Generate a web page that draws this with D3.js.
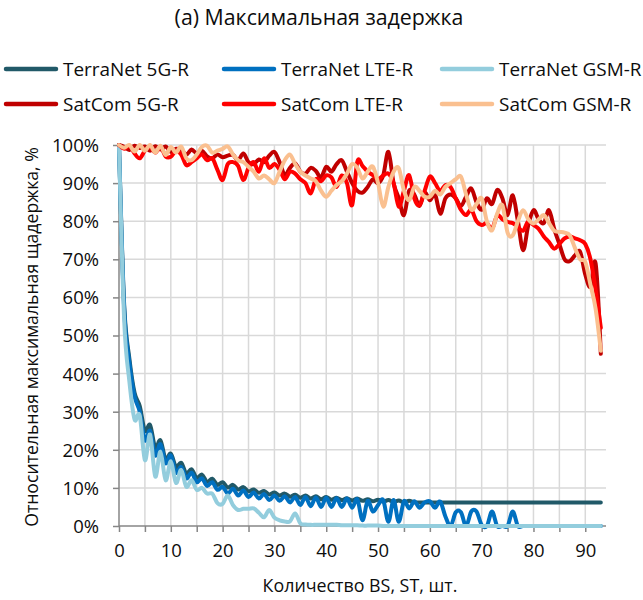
<!DOCTYPE html>
<html><head><meta charset="utf-8">
<script src="https://cdn.jsdelivr.net/npm/d3@7"></script>
<style>
body{margin:0;background:#fff}
text{font-family:'Open Sans',sans-serif;fill:#0d0d0d}
</style>
</head><body>
<svg id="chart" width="643" height="600"></svg>
<script>
const titleText = "(a) Максимальная задержка";
const xTitle = "Количество BS, ST, шт.";
const yTitle = "Относительная максимальная щадержка, %";
const bsCount = d3.range(0, 94);
const xTicks = [0,10,20,30,40,50,60,70,80,90];
const xGrid = [5,10,15,20,25,30,35,40,45,50,55,60,65,70,75,80,85,90];
const yTicks = [0,10,20,30,40,50,60,70,80,90,100];
const seriesNames = ["TerraNet 5G-R","TerraNet LTE-R","TerraNet GSM-R","SatCom 5G-R","SatCom LTE-R","SatCom GSM-R"];
const seriesColors = ["#215968","#0070C0","#93CDDD","#C00000","#FF0000","#FAC090"];

const terra5g = [100,58,44,35,31.5,25,26.5,20.5,22.5,17.5,19,15.5,16.6,13.8,14.9,12.6,13.5,11.6,12.4,10.8,
11.5,10.1,10.8,9.6,10.2,9.1,9.6,8.7,9.2,8.3,8.8,8.0,8.5,7.7,8.2,7.4,8.0,7.2,7.8,7.0,
7.6,6.9,7.4,6.8,7.3,6.7,7.2,6.6,7.0,6.5,6.9,6.4,6.8,6.3,6.7,6.2,6.6,6.2,6.2,6.2,
6.2,6.2,6.2,6.2,6.2,6.2,6.2,6.2,6.2,6.2,6.2,6.2,6.2,6.2,6.2,6.2,6.2,6.2,6.2,6.2,
6.2,6.2,6.2,6.2,6.2,6.2,6.2,6.2,6.2,6.2,6.2,6.2,6.2,6.2];
const terraLte = [100,57,43,34,30,22.5,25,18.5,21.5,16.5,18.5,14,15.5,12.5,14,11.5,12.5,10.5,11.5,9.5,
10.3,8.5,9.8,8.0,9.3,7.6,8.8,7.2,8.4,6.8,8.0,6.6,7.8,6.2,7.6,5.5,7.6,5.2,7.5,5.0,
7.4,5.0,7.3,5.0,7.2,4.8,7.0,1.5,6.6,3.8,5.5,6.8,1.1,6.8,1.1,6.5,4.6,6.5,4.8,6.2,
6.5,4.8,6.4,2.5,0,3.6,3.6,0,3.8,3.8,0.3,0,3.8,0,0,0,3.8,0,0,0,
0,0,0,0,0,0,0,0,0,0,0,0,0,0];
const terraGsm = [100,54,38,28,29,17.3,24,13,19.5,12,17,11.3,14.7,10.3,12,9.5,10,8.5,8.5,6,
5.8,8,5.5,4.2,4.5,4.5,4.6,3.5,2.3,4.2,2.2,1.5,1.2,1.2,3.3,0.7,0.4,0.3,0.3,0.3,
0.3,0.3,0.3,0.2,0.2,0.2,0.2,0.1,0.1,0.1,0.1,0,0,0,0,0,0,0,0,0,
0,0,0,0,0,0,0,0,0,0,0,0,0,0,0,0,0,0,0,0,
0,0,0,0,0,0,0,0,0,0,0,0,0,0];
const sat5g = [100,99.5,98.7,99.8,99.2,99.6,98.5,99.7,98.8,99.6,98.2,99.0,98.7,97.5,98.8,97.8,98.5,97.0,96.5,97.5,
96.8,97.2,97.4,96.0,97.8,95.5,95.0,96.2,95.5,97.2,98.2,95.5,92.1,94.0,95.2,93.0,92.5,94.0,93.2,91.5,
94.3,93.0,95.0,96.0,93.0,90.0,88.0,87.5,89.0,91.0,90.0,92.0,98.2,90.0,86.0,81.6,88.0,87.0,84.0,87.5,
85.5,87.0,82.0,86.0,87.0,86.0,84.0,86.5,88.6,85.0,83.0,86.0,84.5,88.2,86.0,81.6,86.8,80.0,72.4,79.0,
82.9,80.5,79.5,82.9,78.0,74.0,70.0,69.5,71.0,72.0,66.0,62.8,68.9,45.2];
const satLte = [100,99.0,99.8,97.8,96.5,98.5,99.5,98.0,99.5,97.0,96.9,98.5,97.5,94.7,95.5,96.5,97.5,96.0,96.5,93.5,
90.8,95.0,95.5,94.5,90.8,94.0,95.5,93.0,96.5,94.0,95.0,93.5,91.0,93.0,92.5,91.0,90.0,87.3,91.0,90.5,
92.0,91.5,89.0,92.0,90.0,84.2,95.6,94.5,93.0,92.1,91.0,92.0,92.5,90.0,83.8,88.0,92.1,86.0,84.2,88.0,
91.7,90.0,88.0,89.5,89.0,86.0,83.0,81.6,83.0,80.0,79.0,79.5,78.0,81.5,80.5,79.8,79.5,78.5,77.5,80.0,
79.0,78.0,76.0,74.5,72.8,74.0,75.5,76.0,75.5,75.0,74.0,70.0,62.0,52.0];
const satGsm = [100,99.3,100,98.3,100,98.5,100,98.0,99.8,97.4,99.5,98.0,99.6,96.5,96.0,97.5,99.5,99.8,98.0,98.5,
99.0,99.6,97.5,96.0,95.5,94.3,93.0,91.2,92.0,91.0,90.0,93.0,96.0,97.5,95.0,93.0,92.0,91.2,90.5,88.0,
86.4,88.0,89.5,90.5,92.5,95.0,94.0,91.2,93.0,94.3,90.0,83.8,89.0,93.0,93.9,88.0,85.5,89.0,88.0,86.4,
86.4,88.0,87.0,89.0,90.0,91.0,91.7,87.0,83.0,84.5,86.0,80.0,77.6,82.0,84.2,77.0,76.3,80.0,82.9,80.5,
79.4,80.5,81.6,79.5,77.5,77.2,77.0,76.3,73.0,70.0,69.3,63.3,57.0,46.0];
const seriesValues = [terra5g, terraLte, terraGsm, sat5g, satLte, satGsm];

const svg = d3.select("#chart");
const L = 119, R = 606, T = 145, B = 526;
const x = d3.scaleLinear().domain([0, 94]).range([L, R]);
const y = d3.scaleLinear().domain([0, 100]).range([B, T]);

function fit(sel, target){
  const w = sel.node().getComputedTextLength();
  const fs = parseFloat(sel.style("font-size"));
  const nfs = fs * target / w;
  sel.style("font-size", nfs + "px");
  return nfs;
}

// title
const tt = svg.append("text").attr("x", 319).attr("y", 25).attr("text-anchor","middle")
  .style("font-size","17px").text(titleText);
fit(tt, 289);

// grid
const g = svg.append("g");
g.selectAll("line.hg").data(yTicks.filter(d=>d>0)).join("line")
  .attr("x1", L).attr("x2", R).attr("y1", d=>y(d)).attr("y2", d=>y(d))
  .attr("stroke","#d9d9d9").attr("stroke-width",1.5);
g.selectAll("line.vg").data(xGrid).join("line")
  .attr("x1", d=>x(d)).attr("x2", d=>x(d)).attr("y1", T).attr("y2", B)
  .attr("stroke","#d9d9d9").attr("stroke-width",1.5);

// axes
const yAxis = svg.append("g").attr("transform",`translate(${L},0)`)
  .call(d3.axisLeft(y).tickValues(yTicks).tickSize(6).tickFormat(d=>d+"%"));
const xAxis = svg.append("g").attr("transform",`translate(0,${B})`)
  .call(d3.axisBottom(x).tickValues(xGrid.concat([0])).tickSize(6).tickFormat(d=> xTicks.includes(d) ? d : ""));
[yAxis, xAxis].forEach(a=>{
  a.select(".domain").attr("stroke","#868686").attr("stroke-width",1.5);
  a.selectAll(".tick line").attr("stroke","#868686").attr("stroke-width",1.5);
  a.selectAll("text").attr("fill","#0d0d0d").style("font-family","'Open Sans',sans-serif");
});
yAxis.select(".domain").attr("d", `M0,${B}V${T}`);
xAxis.select(".domain").attr("d", `M${L},0H${R}`);
const ylab = yAxis.selectAll(".tick text").filter(d=>d===100);
const tickFs = fit(ylab.style("font-size","17px"), 47);
yAxis.selectAll(".tick text").style("font-size", tickFs+"px").attr("x",-20).attr("dy","0.35em");
xAxis.selectAll(".tick text").style("font-size", tickFs+"px").attr("y",18).attr("dy","0.71em");

// axis titles
const xt = svg.append("text").attr("x", 360).attr("y", 592).attr("text-anchor","middle")
  .style("font-size","16px").text(xTitle);
fit(xt, 195);
const yt = svg.append("text").attr("transform","translate(38,337) rotate(-90)").attr("text-anchor","middle")
  .style("font-size","16px").text(yTitle);
fit(yt, 380);

// series
const line = d3.line().x((d,i)=>x(bsCount[i])).y(d=>y(d)).curve(d3.curveCardinal.tension(0));
svg.append("g").selectAll("path").data(seriesValues).join("path")
  .attr("d", d=>line(d)).attr("fill","none")
  .attr("stroke",(d,i)=>seriesColors[i]).attr("stroke-width",4)
  .attr("stroke-linejoin","round").attr("stroke-linecap","round");

// legend
const colX = [6, 224, 442];
const rowY = [69, 104];
const lg = svg.append("g");
let legFs = null;
seriesNames.forEach((name,i)=>{
  const cx = colX[i%3], cy = rowY[Math.floor(i/3)];
  lg.append("line").attr("x1",cx).attr("x2",cx+50).attr("y1",cy).attr("y2",cy)
    .attr("stroke",seriesColors[i]).attr("stroke-width",4.5).attr("stroke-linecap","round");
  const t = lg.append("text").attr("x",cx+57).attr("y",cy).attr("dy","0.35em")
    .style("font-size","17px").text(name);
  if(i===0){ legFs = fit(t, 126); } else { t.style("font-size", legFs+"px"); }
});
</script>
</body></html>
